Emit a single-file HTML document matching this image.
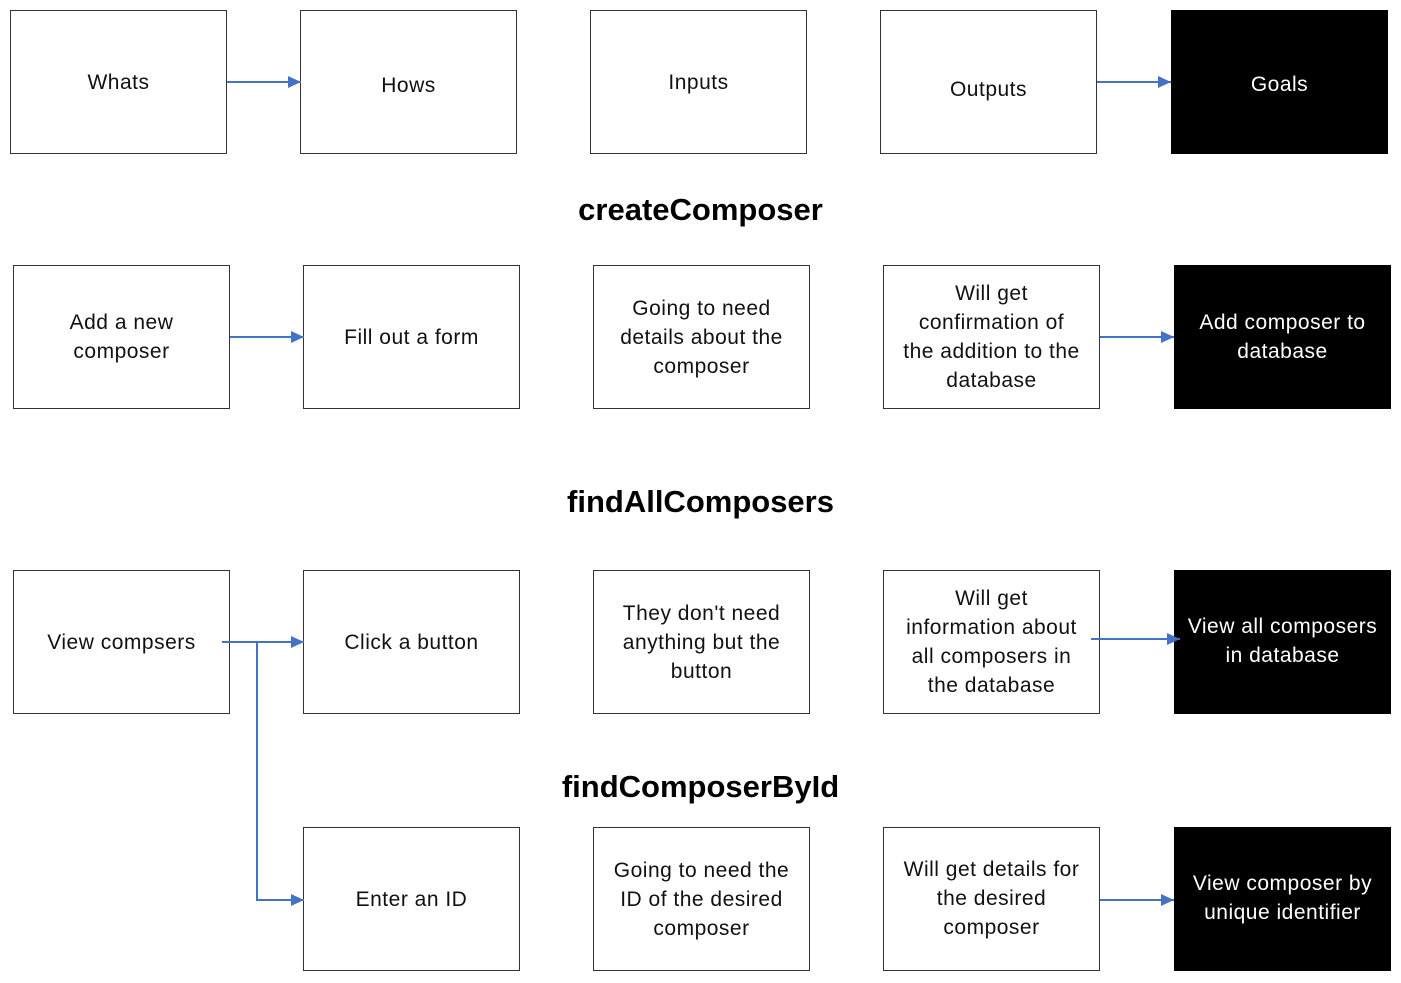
<!DOCTYPE html>
<html><head><meta charset="utf-8"><style>
body{margin:0;width:1401px;height:983px;background:#fff;position:relative;overflow:hidden;font-family:"Liberation Sans",sans-serif}
.b{position:absolute;width:217px;height:144px;border:1px solid #333;box-sizing:border-box;display:flex;align-items:center;justify-content:center;text-align:center;font-size:21px;letter-spacing:0.5px;line-height:29px;color:#111;padding:0 2px;white-space:nowrap}
.k{background:#000;color:#fff;border-color:#000}
.t{position:absolute;left:0;width:1401px;text-align:center;font-weight:bold;font-size:31px;color:#000}
svg{position:absolute;left:0;top:0}
</style></head><body>
<div class="b" style="left:10px;top:10px">Whats</div>
<div class="b" style="left:300px;top:10px;padding-top:6px">Hows</div>
<div class="b" style="left:590px;top:10px">Inputs</div>
<div class="b" style="left:880px;top:10px;padding-top:14px">Outputs</div>
<div class="b k" style="left:1171px;top:10px;padding-top:4px">Goals</div>
<div class="t" style="top:192px">createComposer</div>
<div class="b" style="left:13px;top:265px">Add a new<br>composer</div>
<div class="b" style="left:303px;top:265px">Fill out a form</div>
<div class="b" style="left:593px;top:265px">Going to need<br>details about the<br>composer</div>
<div class="b" style="left:883px;top:265px">Will get<br>confirmation of<br>the addition to the<br>database</div>
<div class="b k" style="left:1174px;top:265px">Add composer to<br>database</div>
<div class="t" style="top:484px">findAllComposers</div>
<div class="b" style="left:13px;top:570px">View compsers</div>
<div class="b" style="left:303px;top:570px">Click a button</div>
<div class="b" style="left:593px;top:570px">They don't need<br>anything but the<br>button</div>
<div class="b" style="left:883px;top:570px">Will get<br>information about<br>all composers in<br>the database</div>
<div class="b k" style="left:1174px;top:570px;padding-bottom:2px">View all composers<br>in database</div>
<div class="t" style="top:769px">findComposerById</div>
<div class="b" style="left:303px;top:827px">Enter an ID</div>
<div class="b" style="left:593px;top:827px">Going to need the<br>ID of the desired<br>composer</div>
<div class="b" style="left:883px;top:827px;padding-bottom:2px">Will get details for<br>the desired<br>composer</div>
<div class="b k" style="left:1174px;top:827px;padding-bottom:2px">View composer by<br>unique identifier</div>
<svg width="1401" height="983">
<defs><marker id="a" markerWidth="14" markerHeight="14" refX="13" refY="6" orient="auto" markerUnits="userSpaceOnUse"><path d="M0,0L13,6L0,12z" fill="#4472C4"/></marker></defs>
<g stroke="#4472C4" stroke-width="2" fill="none" marker-end="url(#a)">
<path d="M227 82H301"/><path d="M1097 82H1171"/>
<path d="M230 337H304"/><path d="M1100 337H1174"/>
<path d="M222 642H304"/><path d="M257 642V900H304"/>
<path d="M1091 639H1180"/><path d="M1100 900H1174"/>
</g></svg>
</body></html>
